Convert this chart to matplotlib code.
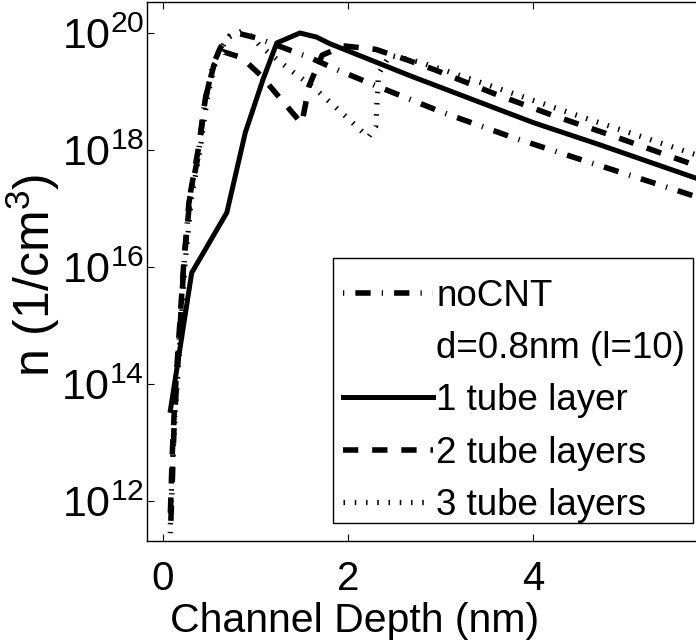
import matplotlib
matplotlib.use('Agg')
import matplotlib.pyplot as plt
from matplotlib.patches import Rectangle
from matplotlib.ticker import NullLocator

plt.rcParams['font.family'] = 'Liberation Sans'
plt.rcParams['mathtext.fontset'] = 'custom'
plt.rcParams['mathtext.rm'] = 'Liberation Sans'
plt.rcParams['mathtext.it'] = 'Liberation Sans:italic'
plt.rcParams['lines.scale_dashes'] = False

# depth (nm) and log10 of electron density (1/cm^3)
x_nocnt = [0.08, 0.10, 0.12, 0.17, 0.22, 0.28, 0.38, 0.45, 0.54, 0.62, 0.72, 0.80,
           1.00, 1.30, 1.60, 1.90, 2.30, 3.01, 3.77, 4.53, 5.30, 6.00]
lg_nocnt = [11.45, 12.3, 13.3, 14.6, 15.9, 17.1, 17.9, 18.8, 19.45, 19.75, 19.95, 20.0,
            19.92, 19.75, 19.57, 19.36, 19.10, 18.65, 18.22, 17.83, 17.44, 17.08]

x_1 = [0.08, 0.31, 0.69, 0.89, 1.08, 1.23, 1.48, 1.66, 1.80, 2.67, 4.00, 4.72, 5.76, 6.00]
lg_1 = [13.55, 15.9, 16.93, 18.3, 19.2, 19.83, 20.0, 19.93, 19.82, 19.27, 18.47, 18.09, 17.52, 17.39]

x_2 = [0.08, 0.10, 0.13, 0.18, 0.23, 0.30, 0.38, 0.46, 0.55, 0.65, 0.85, 1.06, 1.29, 1.50,
       1.58, 1.72, 1.95, 2.30, 2.64, 2.94, 3.57, 4.20, 4.83, 5.45, 6.00]
lg_2 = [11.8, 12.8, 13.8, 15.0, 16.2, 17.3, 18.0, 18.9, 19.45, 19.68, 19.58, 19.27, 18.84, 18.45,
        19.1, 19.62, 19.78, 19.72, 19.54, 19.37, 18.97, 18.6, 18.26, 17.91, 17.6]

x_3 = [0.08, 0.10, 0.14, 0.19, 0.24, 0.31, 0.40, 0.48, 0.58, 0.70, 0.85, 0.95, 1.05, 1.35,
       1.62, 1.86, 2.04, 2.22, 2.30, 2.33, 2.45, 2.78, 3.50, 4.50, 5.76, 6.00]
lg_3 = [11.6, 12.6, 13.7, 14.9, 16.1, 17.2, 18.0, 18.9, 19.6, 19.92, 20.03, 19.95, 19.78, 19.4,
        19.08, 18.74, 18.48, 18.22, 18.4, 19.3, 19.62, 19.5, 19.12, 18.58, 17.92, 17.8]

labels = ['noCNT', 'd=0.8nm (l=10)', '1 tube layer', '2 tube layers', '3 tube layers']
y_ticks = [1e12, 1e14, 1e16, 1e18, 1e20]
x_ticks = [0, 2, 4]

fig = plt.figure(figsize=(6.96, 6.40), dpi=100)
ax = fig.add_axes([147 / 696, 99 / 640, 571 / 696, 539 / 640])

ax.plot(x_nocnt, [10.0 ** v for v in lg_nocnt], color='k', lw=4, ls=(0, (0.9, 8, 11, 8)), label=labels[0])
ax.plot([], [], ls='none', label=labels[1])
ax.plot(x_1, [10.0 ** v for v in lg_1], color='k', lw=3.6, solid_joinstyle='round', label=labels[2])
ax.plot(x_2, [10.0 ** v for v in lg_2], color='k', lw=4, dashes=(11, 10), label=labels[3])
ax.plot(x_3, [10.0 ** v for v in lg_3], color='k', lw=3.8, dashes=(1.1, 7), label=labels[4])

ax.set_yscale('log')
ax.set_xlim(-0.173, 6.0)
ax.set_ylim(10 ** 11.316, 10 ** 20.53)
ax.set_xticks(x_ticks)
ax.set_yticks(y_ticks)
ax.yaxis.set_minor_locator(NullLocator())
ax.tick_params(direction='in', top=True, right=True, length=5, width=0.8)
ax.tick_params(axis='x', pad=14, labelsize=29)
ax.tick_params(axis='y', pad=2, labelsize=31)
for s in ax.spines.values():
    s.set_linewidth(1.0)

ax.set_xlabel('Channel Depth (nm)', fontsize=29.5)
ax.set_ylabel('n (1/cm$^3$)', fontsize=36)
ax.xaxis.set_label_coords(0.364, -0.113)
ax.yaxis.set_label_coords(-0.148, 0.4935)

# legend box drawn by hand so the padding matches the original
box = Rectangle((333 / 696, 117 / 640), 360 / 696, 265 / 640, transform=fig.transFigure,
                facecolor='white', edgecolor='k', lw=1.0, zorder=4, clip_on=False)
ax.add_patch(box)
leg = ax.legend(loc='upper left', bbox_to_anchor=(343 / 696, 0.5645), bbox_transform=fig.transFigure,
                fontsize=26.5, frameon=False, borderaxespad=0, borderpad=0,
                handlelength=2.45, handletextpad=0.08, labelspacing=0.47)
leg.set_zorder(5)

fig.savefig('out.png', dpi=100)
